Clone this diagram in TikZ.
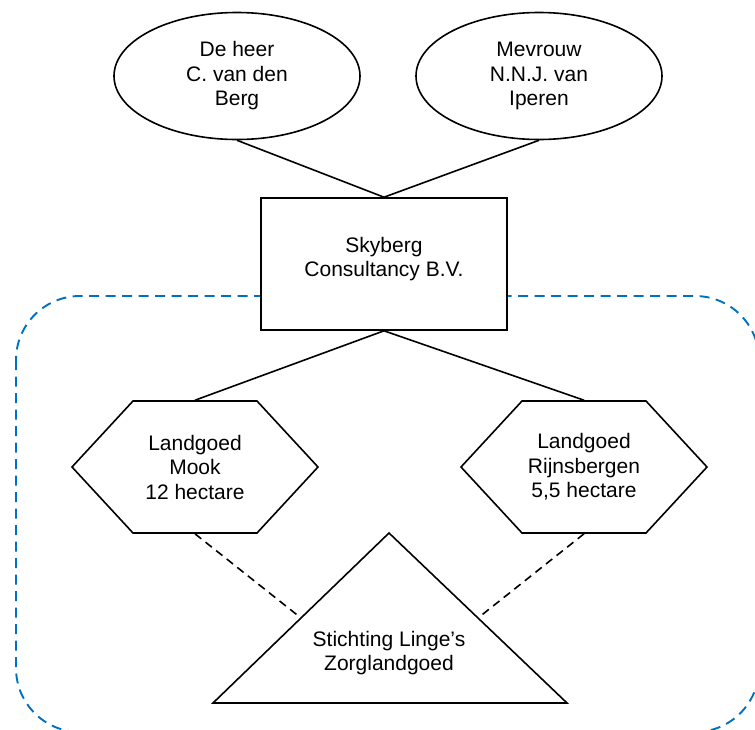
\documentclass[tikz,border=0pt]{standalone}
\usepackage{fontspec}
\setmainfont{Liberation Sans}
\usetikzlibrary{shapes.geometric,shapes.symbols,calc}
\definecolor{groupblue}{RGB}{0,112,192}
\begin{document}
\begin{tikzpicture}[
        x=1pt, y=-1pt,
        every node/.style={align=center, font=\fontsize{21}{24.5}\selectfont},
        person/.style={ellipse, draw, line width=1.6pt, minimum width=246pt, minimum height=127pt},
        firm/.style={rectangle, draw, fill=white, line width=1.6pt, minimum width=246pt, minimum height=132pt},
        estate/.style={signal, signal to=west and east, signal pointer angle=94.5, draw, fill=white,
          line width=1.6pt, minimum width=246pt, minimum height=132pt, inner sep=0pt},
        link/.style={line width=1.6pt},
        dashlink/.style={line width=1.6pt, dash pattern=on 8pt off 5.5pt},
        group/.style={draw=groupblue, line width=1.9pt, dash pattern=on 10pt off 6.5pt, rounded corners=64pt}
      ]
      \useasboundingbox (0,0) rectangle (755,729);
      % group frame, runs off the page
      \begin{scope}
        \clip (0,0) rectangle (755,729);
        \draw[group] (16,296) rectangle (759,732);
      \end{scope}
      % owners
      \node[person] (berg) at (237,76) {De heer\\C. van den\\Berg};
      \node[person] (iperen) at (539,76) {Mevrouw\\N.N.J. van\\Iperen};
      \node[firm, text depth=14pt] (skyberg) at (384,264) {Skyberg\\Consultancy B.V.};
      \draw[link] (berg.south) -- (skyberg.north);
      \draw[link] (iperen.south) -- (skyberg.north);
      % estates
      \node[estate] (mook) at (195,467) {Landgoed\\Mook\\12 hectare};
      \node[estate] (rijns) at (584,467) {Landgoed\\Rijnsbergen\\5,5 hectare};
      \draw[link] (skyberg.south) -- (mook.north);
      \draw[link] (skyberg.south) -- (rijns.north);
      % foundation
      \coordinate (ztop) at (389,533);
      \coordinate (zleft) at (213,703);
      \coordinate (zright) at (567,703);
      \draw[line width=1.6pt, line join=miter] (ztop) -- (zleft) -- (zright) -- cycle;
      \node (zorg) at (389,653) {Stichting Linge’s\\Zorglandgoed};
      \coordinate (zl) at ($(zleft)!.5!(ztop)$);
      \coordinate (zr) at ($(zright)!.5!(ztop)$);
      \draw[dashlink] (mook.south) -- (zl);
      \draw[dashlink] (rijns.south) -- (zr);
    \end{tikzpicture}
\end{document}
